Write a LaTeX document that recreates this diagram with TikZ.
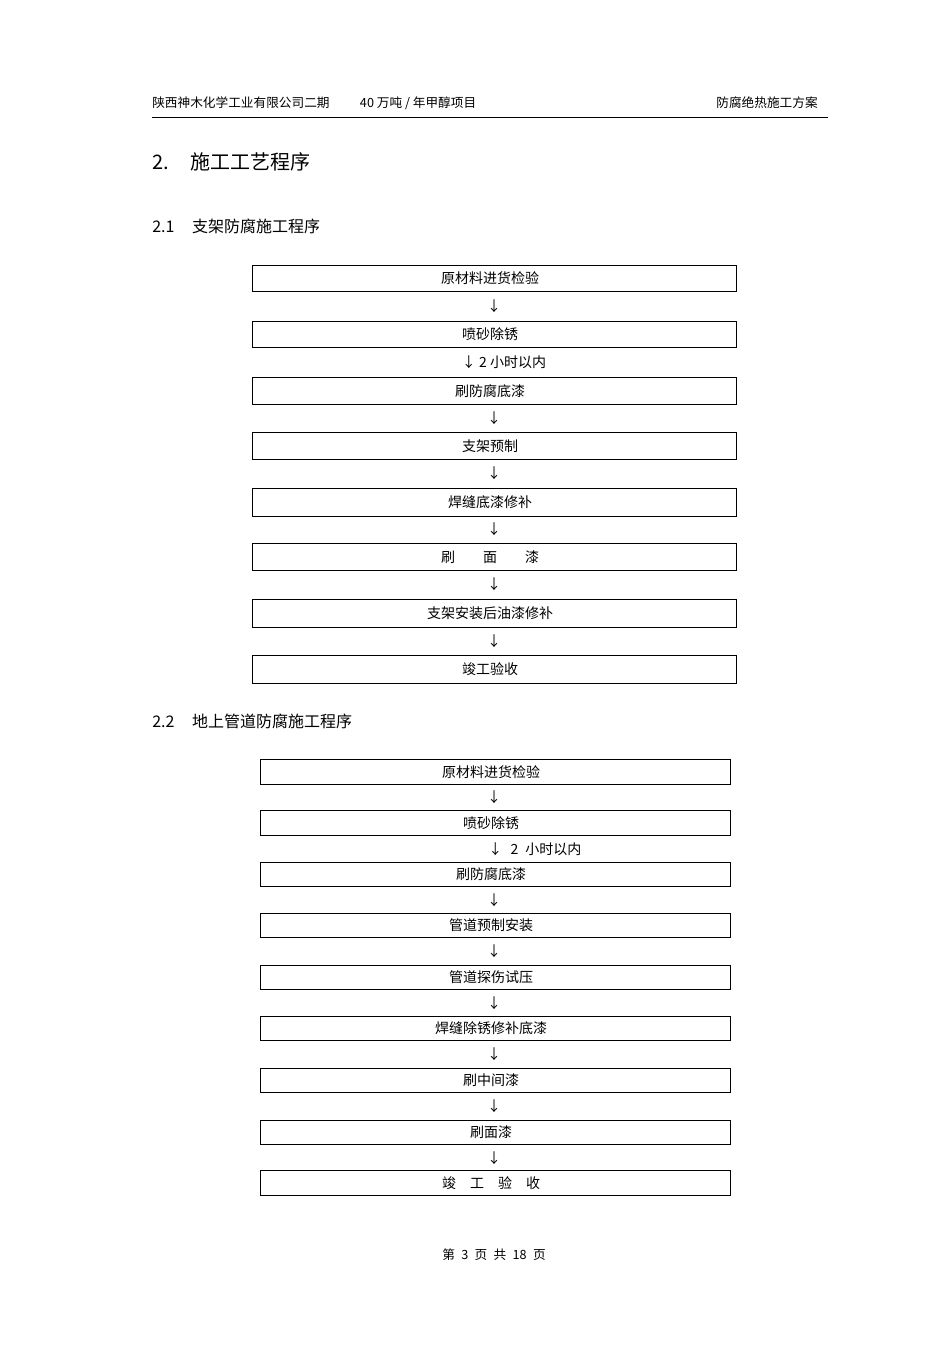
\documentclass[tikz,border=0pt]{standalone}
\usepackage{fontspec}
\usetikzlibrary{calc}
\setmainfont{Noto Sans CJK SC}
\begin{document}
\begin{tikzpicture}[x=0.75pt,y=-0.75pt,
  box/.style={draw,semithick,minimum height=19pt,inner sep=0pt,font=\fontsize{10.5}{12}\selectfont},
  arr/.style={font=\fontsize{10.5}{12}\selectfont,inner sep=0pt},
  txt/.style={inner sep=0pt,anchor=west}]
\useasboundingbox (0,0) rectangle (950,1345);
\node[txt,font=\fontsize{9.5}{11}\selectfont] (h1) at (152,103) {陕西神木化学工业有限公司二期\hspace{2.4em}40 万吨 / 年甲醇项目};
\node[inner sep=0pt,anchor=east,font=\fontsize{9.5}{11}\selectfont] (h2) at (818,103) {防腐绝热施工方案};
\draw (152,117) -- (828,117);
\node[txt,font=\fontsize{15}{18}\selectfont] (t) at (152,162) {2.\hspace{1.1em}施工工艺程序};
\node[txt,font=\fontsize{12}{14}\selectfont] (s1) at (152,226) {2.1\hspace{1.1em}支架防腐施工程序};
\node[txt,font=\fontsize{12}{14}\selectfont] (s2) at (152,721) {2.2\hspace{1.1em}地上管道防腐施工程序};
% section 1
\foreach \i/\y/\h/\t in {1/278/26/原材料进货检验,2/334/26/喷砂除锈,3/390.5/27/刷防腐底漆,4/445.5/27/支架预制,5/502/28/焊缝底漆修补,6/556.5/27/{刷\hspace{2em}面\hspace{2em}漆},7/613/28/支架安装后油漆修补,8/669/28/竣工验收}
  \node[box,minimum width=363pt,minimum height=\h*0.75pt,text depth=0pt] (a\i) at (494,\y) {\hspace*{-6pt}\t};
\foreach \i/\j in {1/2,3/4,4/5,5/6,6/7,7/8}
  \node[arr] at ($(a\i.south)!0.5!(a\j.north)$) {↓};
\node[arr] (a23) at ($(a2.south)!0.5!(a3.north)+(10,0)$) {↓ 2 小时以内};
% section 2
\foreach \i/\y/\t in {1/772/原材料进货检验,2/823/喷砂除锈,3/874.5/刷防腐底漆,4/925.5/管道预制安装,5/977.5/管道探伤试压,6/1028.5/焊缝除锈修补底漆,7/1080.5/刷中间漆,8/1132.5/刷面漆,9/1183/{竣\hspace{1em}工\hspace{1em}验\hspace{1em}收}}
  \node[box,minimum width=352.5pt,minimum height=18.5pt] (b\i) at (495,\y) {\hspace*{-6pt}\t};
\foreach \i/\j in {1/2,3/4,4/5,5/6,6/7,7/8,8/9}
  \node[arr] at ($(b\i.south)!0.5!(b\j.north)+(-1,0)$) {↓};
\node[arr,anchor=west] (b23) at ($(b2.south)!0.5!(b3.north)+(-7,0)$) {↓\hspace{0.6em}2\hspace{0.5em}小时以内};
\node[font=\fontsize{9.5}{11}\selectfont,inner sep=0pt] (f) at (494,1255) {第\hspace{0.5em}3\hspace{0.5em}页\hspace{0.5em}共\hspace{0.5em}18\hspace{0.5em}页};
\end{tikzpicture}
\end{document}
